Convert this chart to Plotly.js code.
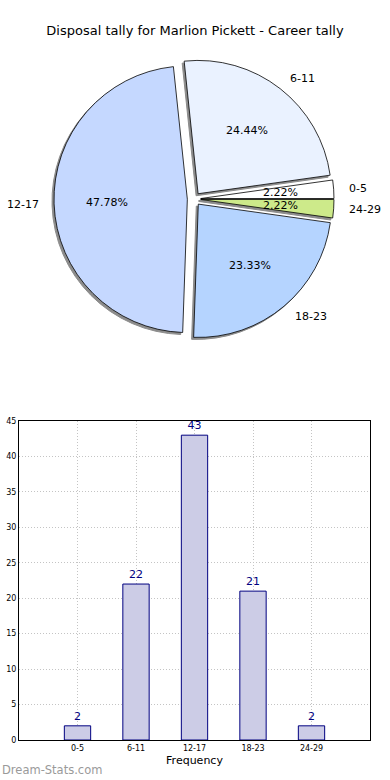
<!DOCTYPE html>
<html><head><meta charset="utf-8">
<script src="https://cdn.plot.ly/plotly-3.0.1.min.js"></script>
<style>html,body{margin:0;padding:0;background:#fff}#chart{width:390px;height:780px}</style>
</head><body><div id="chart"></div>
<script>
var categories = ['0-5', '6-11', '12-17', '18-23', '24-29'];
var counts = [2, 22, 43, 21, 2];
var pieColors = ['#ffffff', '#eaf2ff', '#c5d8ff', '#b5d4ff', '#cdea8a'];
var yTicks = [0, 5, 10, 15, 20, 25, 30, 35, 40, 45];
var titleText = 'Disposal tally for Marlion Pickett - Career tally';

var W = 390, H = 780;
var pull = 0.05;
var cx = 194, cy = 199, half = 140;
var r = half / (1 + pull);
function px2x(p){ return p / W; }
function px2y(p){ return 1 - p / H; }

var total = counts.reduce(function(a,b){return a+b;}, 0);
var rot = 90 - 360 * counts[0] / total;
var pieDomain = {x: [px2x(cx - half), px2x(cx + half)], y: [px2y(cy + half), px2y(cy - half)]};
var shadowDomain = {x: [px2x(cx - half - 2), px2x(cx + half - 2)], y: [px2y(cy + half + 2), px2y(cy - half + 2)]};

var shadow = {
  type: 'pie', values: counts, labels: categories, sort: false,
  direction: 'counterclockwise', rotation: rot, pull: pull,
  domain: shadowDomain, textinfo: 'none', hoverinfo: 'skip',
  marker: {colors: counts.map(function(){return '#8c8c8c';}), line: {color: '#8c8c8c', width: 1}},
  showlegend: false
};
var pie = {
  type: 'pie', values: counts, labels: categories, sort: false,
  direction: 'counterclockwise', rotation: rot, pull: pull,
  domain: pieDomain, textinfo: 'none',
  marker: {colors: pieColors, line: {color: '#000000', width: 0.8}},
  showlegend: false
};

var annotations = [];
var cum = 0;
var font = {family: 'DejaVu Sans', size: 11, color: '#000'};
counts.forEach(function(v, i){
  var m = (cum + v / 2) / total;
  cum += v;
  var th = 2 * Math.PI * m;
  var c = Math.cos(th), s = Math.sin(th);
  var ox = cx + pull * r * c, oy = cy - pull * r * s;
  annotations.push({xref: 'paper', yref: 'paper', showarrow: false,
    x: px2x(ox + 0.6 * r * c), y: px2y(oy - 0.6 * r * s),
    text: (v / total * 100).toFixed(2) + '%', font: font, xanchor: 'center', yanchor: 'middle'});
  annotations.push({xref: 'paper', yref: 'paper', showarrow: false,
    x: px2x(ox + 1.1 * r * c), y: px2y(oy - 1.1 * r * s),
    text: categories[i], font: font, xanchor: c >= 0 ? 'left' : 'right', yanchor: 'middle'});
});
annotations.push({xref: 'paper', yref: 'paper', showarrow: false, x: 0, y: px2y(770),
  xanchor: 'left', yanchor: 'middle', text: 'Dream-Stats.com',
  font: {family: 'DejaVu Sans', size: 11.5, color: '#9a9a9a'}});

var bar = {
  type: 'bar', x: categories, y: counts, width: 0.45,
  marker: {color: 'rgb(204,204,230)', line: {color: '#000080', width: 1}},
  text: counts.map(String), textposition: 'outside', cliponaxis: false,
  textfont: {family: 'DejaVu Sans', size: 11, color: '#000080'},
  xaxis: 'x', yaxis: 'y', showlegend: false
};

var gridStyle = {showgrid: true, gridcolor: '#c4c4c4', griddash: '1px,2px', gridwidth: 1};
var layout = {
  width: W, height: H, margin: {l: 0, r: 0, t: 0, b: 0},
  paper_bgcolor: '#fff', plot_bgcolor: '#fff',
  font: {family: 'DejaVu Sans', color: '#000'},
  title: {text: titleText, x: 0.5, xanchor: 'center', y: px2y(30), yanchor: 'middle', yref: 'container',
    font: {family: 'DejaVu Sans', size: 13, color: '#000'}},
  xaxis: Object.assign({domain: [px2x(19), px2x(370)], range: [-1, 5], type: 'category',
    showline: true, mirror: true, linecolor: '#000', linewidth: 1,
    ticks: '', tickfont: {size: 8, family: 'DejaVu Sans'},
    title: {text: 'Frequency', font: {size: 11, family: 'DejaVu Sans'}, standoff: 4},
    anchor: 'y', fixedrange: true}, gridStyle),
  yaxis: Object.assign({domain: [px2y(740), px2y(421)], range: [0, 45], tickvals: yTicks,
    showline: true, mirror: true, linecolor: '#000', linewidth: 1,
    ticks: '', zeroline: false,
    tickfont: {size: 8, family: 'DejaVu Sans'}, anchor: 'x', fixedrange: true}, gridStyle),
  annotations: annotations
};

Plotly.newPlot('chart', [shadow, pie, bar], layout, {displayModeBar: false, staticPlot: true});
</script></body></html>
